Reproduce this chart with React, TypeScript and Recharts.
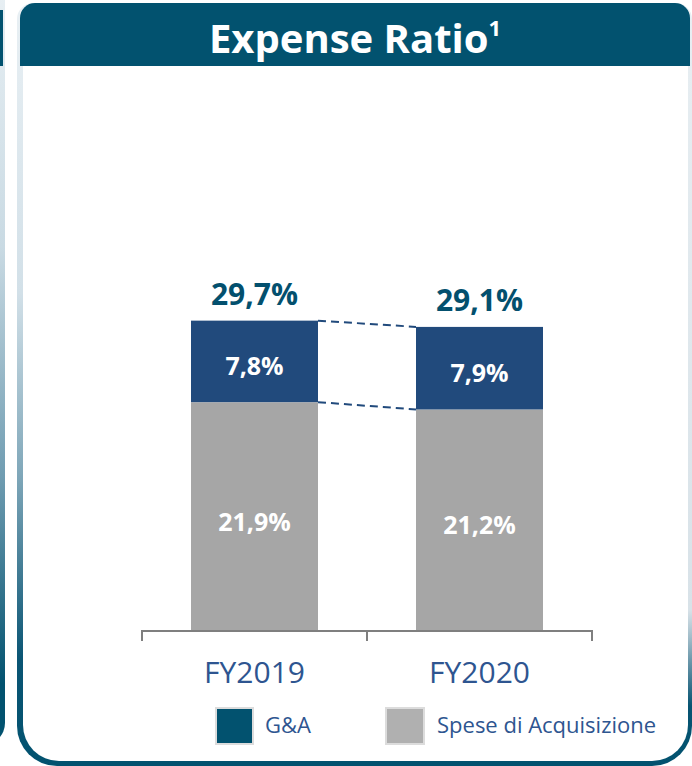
import React from 'react';
import { BarChart, Bar, XAxis, YAxis, LabelList } from 'recharts';

const categories = ['FY2019', 'FY2020'];
const speseAcquisizione = [21.9, 21.2];
const gaValues = [7.8, 7.9];
const totals = [29.7, 29.1];

const TEAL = '#02526F';
const GA_COLOR = '#214A7C';
const GREY = '#A6A6A6';
const TEXT_BLUE = '#2E5590';
const FONT = '"Open Sans", "DejaVu Sans", sans-serif';

const data = categories.map((name, i) => ({
  name,
  spese: speseAcquisizione[i],
  ga: gaValues[i],
  total: totals[i],
}));

// "29,7%" style
const fmt = (v: number) => v.toFixed(1).replace('.', ',') + '%';

// rects of the top segments, filled in while the bars render, used for the dashed connectors
const gaRects: Record<number, { x: number; y: number; width: number; height: number }> = {};

function GaShape(props: any) {
  const { x, y, width, height, index, fill } = props;
  gaRects[index] = { x, y, width, height };
  const prev = gaRects[index - 1];
  return (
    <g>
      <rect x={x} y={y} width={width} height={height} fill={fill} />
      {index > 0 && prev && (
        <g stroke={GA_COLOR} strokeWidth={2} strokeDasharray="8 5">
          <line x1={prev.x + prev.width} y1={prev.y} x2={x} y2={y} />
          <line x1={prev.x + prev.width} y1={prev.y + prev.height} x2={x} y2={y + height} />
        </g>
      )}
    </g>
  );
}

function AxisTick(props: any) {
  const { x, y, payload, index } = props;
  const half = payload.offset || 112.5;
  const last = index === categories.length - 1;
  return (
    <g>
      <line x1={x - half} y1={y - 1} x2={x - half} y2={y + 10} stroke="#7F7F7F" strokeWidth={2} />
      {last && <line x1={x + half} y1={y - 1} x2={x + half} y2={y + 10} stroke="#7F7F7F" strokeWidth={2} />}
      <text x={x} y={y + 52} textAnchor="middle" fill={TEXT_BLUE} fontSize={30} fontFamily={FONT}>
        {payload.value}
      </text>
    </g>
  );
}

const innerLabel = (p: any) => (
  <text
    x={p.x + p.width / 2}
    y={p.y + p.height / 2 + 4}
    textAnchor="middle"
    dominantBaseline="central"
    fill="#FFFFFF"
    fontSize={25}
    fontWeight={700}
    fontFamily={FONT}
  >
    {fmt(p.value)}
  </text>
);

const totalLabel = (p: any) => (
  <text
    x={p.x + p.width / 2}
    y={p.y - 16}
    textAnchor="middle"
    fill="#03506E"
    fontSize={30}
    fontWeight={700}
    fontFamily={FONT}
  >
    {fmt(p.value)}
  </text>
);

export default function App() {
  return (
    <div style={{ position: 'absolute', left: 0, top: 0, width: 692, height: 766, overflow: 'hidden', background: '#fff', fontFamily: FONT }}>
      {/* edge of the previous card */}
      <div style={{ position: 'absolute', left: -40, top: -20, width: 45, height: 765, borderRadius: '0 0 22px 0', background: 'linear-gradient(to bottom, #e9f0f4 0%, #c9dae3 35%, #6f9cb1 65%, #02526F 92%)' }}>
        <div style={{ position: 'absolute', left: 0, top: 0, right: 5, bottom: 5, borderRadius: '0 0 18px 0', background: '#fff' }} />
      </div>
      <div style={{ position: 'absolute', left: -40, top: 10, width: 43, height: 56, background: TEAL }} />

      {/* card */}
      <div style={{ position: 'absolute', left: 17, top: 3, width: 675, height: 763, borderRadius: '16px 16px 40px 40px', background: 'linear-gradient(to bottom, #e9f0f4 0%, #d2e0e8 38%, #7fa7b9 62%, #0a5574 86%, #02526F 100%)' }}>
        <div style={{ position: 'absolute', left: 6, top: 0, right: 4, bottom: 5, borderRadius: '14px 14px 36px 36px', background: '#fff' }} />
      </div>
      <div style={{ position: 'absolute', left: 688, top: 66, width: 4, height: 640, background: 'linear-gradient(to bottom, #e6edf1, #d8e2e8 85%, rgba(216,226,232,0))' }} />

      {/* header */}
      <div style={{ position: 'absolute', left: 20, top: 3, width: 670, height: 63, background: TEAL, borderRadius: '15px 15px 0 0', display: 'flex', alignItems: 'center', justifyContent: 'center' }}>
        <span style={{ color: '#fff', fontSize: 40, fontWeight: 700, lineHeight: 1, position: 'relative', top: 3 }}>
          Expense Ratio<sup style={{ fontSize: 22, verticalAlign: 'top', position: 'relative', top: -2 }}>1</sup>
        </span>
      </div>

      <div style={{ position: 'absolute', left: 0, top: 0 }}>
        <BarChart width={692} height={766} data={data} margin={{ top: 213, right: 100, bottom: 75, left: 142 }}>
          <XAxis
            dataKey="name"
            height={60}
            tickSize={0}
            tickMargin={0}
            tickLine={false}
            axisLine={{ stroke: '#7F7F7F', strokeWidth: 2 }}
            tick={<AxisTick />}
            interval={0}
          />
          <YAxis hide domain={[0, 40]} />
          <Bar dataKey="spese" stackId="a" fill={GREY} barSize={127} isAnimationActive={false}>
            <LabelList dataKey="spese" content={innerLabel} />
          </Bar>
          <Bar dataKey="ga" stackId="a" fill={GA_COLOR} barSize={127} shape={<GaShape />} isAnimationActive={false}>
            <LabelList dataKey="ga" content={innerLabel} />
            <LabelList dataKey="total" content={totalLabel} />
          </Bar>
        </BarChart>
      </div>

      {/* legend */}
      <div style={{ position: 'absolute', left: 215, top: 707, width: 35, height: 34, background: TEAL, border: '2px solid #dcdcdc' }} />
      <div style={{ position: 'absolute', left: 265, top: 710, fontSize: 22, color: TEXT_BLUE, lineHeight: '28px' }}>G&amp;A</div>
      <div style={{ position: 'absolute', left: 385, top: 707, width: 36, height: 34, background: '#B0B0B0', border: '2px solid #dcdcdc' }} />
      <div style={{ position: 'absolute', left: 437, top: 710, fontSize: 22, color: TEXT_BLUE, lineHeight: '28px', whiteSpace: 'nowrap' }}>Spese di Acquisizione</div>
    </div>
  );
}
